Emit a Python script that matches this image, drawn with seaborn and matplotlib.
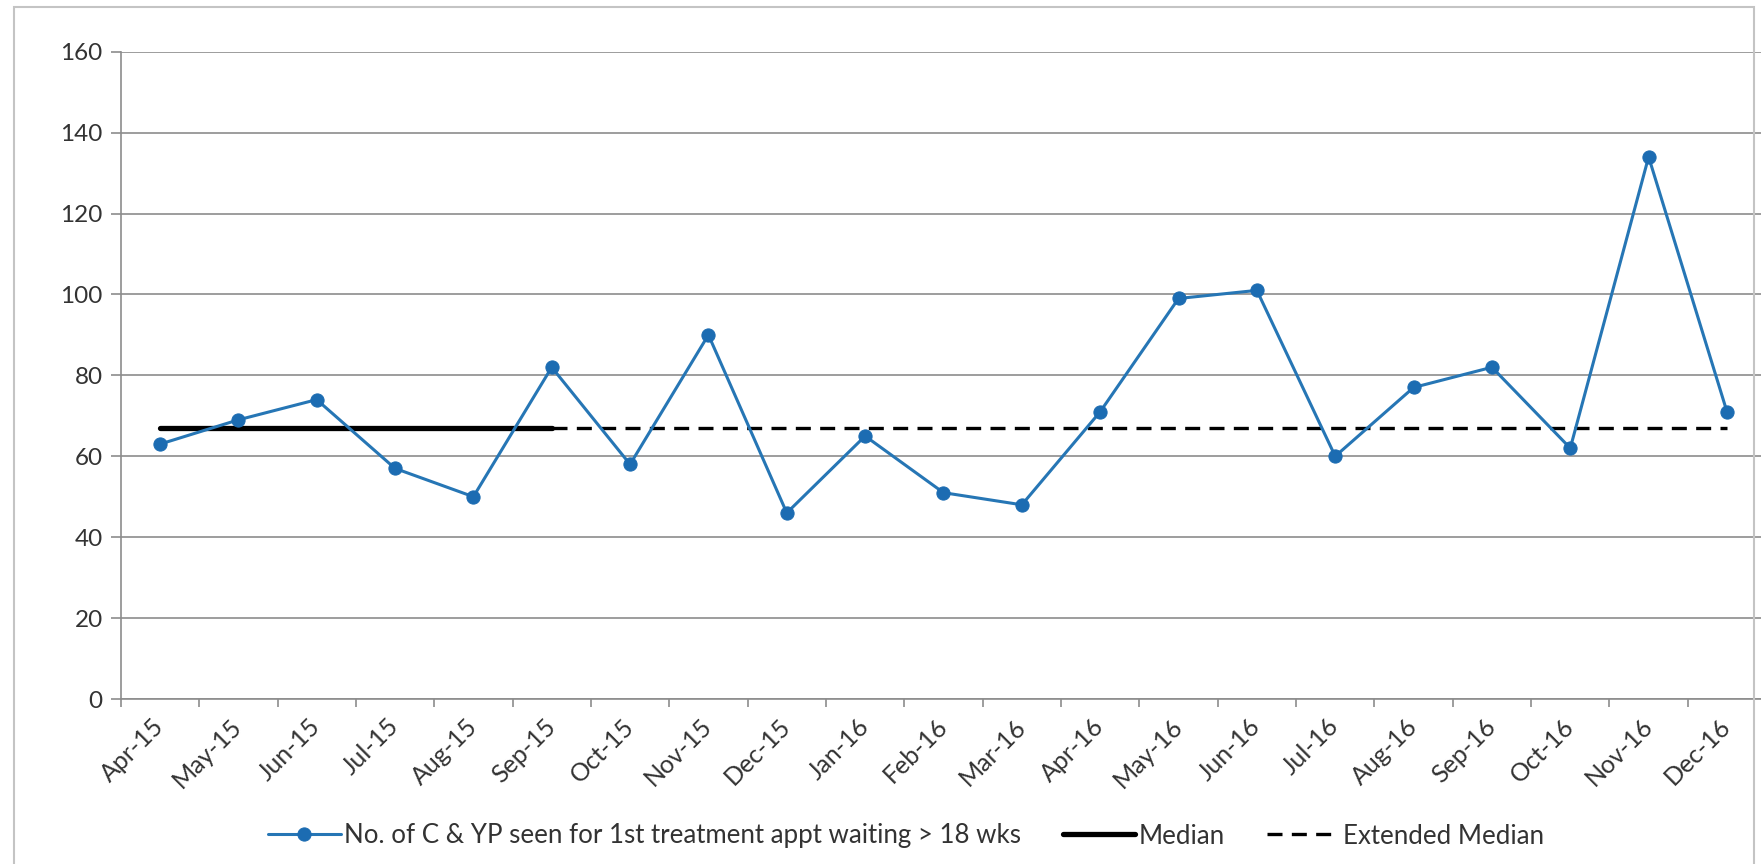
import matplotlib
matplotlib.use("Agg")
import matplotlib.pyplot as plt
from matplotlib.patches import Rectangle
import seaborn as sns
import pandas as pd

# Monthly counts of children & young people seen for 1st treatment appointment after waiting > 18 weeks
months = ["Apr-15", "May-15", "Jun-15", "Jul-15", "Aug-15", "Sep-15", "Oct-15",
          "Nov-15", "Dec-15", "Jan-16", "Feb-16", "Mar-16", "Apr-16", "May-16",
          "Jun-16", "Jul-16", "Aug-16", "Sep-16", "Oct-16", "Nov-16", "Dec-16"]
seen = [63, 69, 74, 57, 50, 82, 58, 90, 46, 65, 51, 48, 71, 99, 101, 60, 77, 82, 62, 134, 71]

# Median of the baseline period and its extension across the remaining months
median_value = 67
median_months = months[:6]
extended_months = months[5:]

y_ticks = [0, 20, 40, 60, 80, 100, 120, 140, 160]

series_label = "No. of C & YP seen for 1st treatment appt waiting > 18 wks"

sns.set_theme(style="white")
plt.rcParams["font.family"] = ["Lato", "DejaVu Sans"]

W, H = 1761, 864
fig = plt.figure(figsize=(W / 100, H / 100), dpi=100)
fig.patch.set_facecolor("white")

left_px, right_px, top_px, bottom_px = 120.8, 1761, 51.7, 699
ax = fig.add_axes([left_px / W, 1 - bottom_px / H,
                   (right_px - left_px) / W, (bottom_px - top_px) / H])

idx = {m: i for i, m in enumerate(months)}
df = pd.DataFrame({"x": [idx[m] for m in months], "y": seen})
med = pd.DataFrame({"x": [idx[m] for m in median_months], "y": [median_value] * len(median_months)})
ext = pd.DataFrame({"x": [idx[m] for m in extended_months], "y": [median_value] * len(extended_months)})

line_blue = "#2676B5"
sns.lineplot(data=df, x="x", y="y", ax=ax, color=line_blue, linewidth=2.2,
             marker="o", markersize=9.5, markerfacecolor="#1C6CB2",
             markeredgecolor="#1C6CB2", label=series_label, zorder=4)
sns.lineplot(data=med, x="x", y="y", ax=ax, color="black", linewidth=3.8,
             label="Median", zorder=3)
sns.lineplot(data=ext, x="x", y="y", ax=ax, color="black", linewidth=2.4,
             linestyle=(0, (4.5, 2.8)), label="Extended Median", zorder=3)

ax.set_xlim(-0.5, -0.5 + (right_px - left_px) / 78.35)
ax.set_ylim(0, 160)
ax.set_yticks(y_ticks)
ax.set_yticklabels([str(v) for v in y_ticks])
ax.set_xticks(range(len(months)))
ax.set_xticklabels(months, rotation=45, ha="right", va="center", rotation_mode="anchor")
ax.set_xticks([i - 0.5 for i in range(len(months))], minor=True)
ax.set_xlabel("")
ax.set_ylabel("")

ax.grid(axis="y", color="#8c8c8c", linewidth=1.2)
ax.grid(axis="x", visible=False)
ax.set_axisbelow(True)
for s in ["top", "right"]:
    ax.spines[s].set_visible(False)
ax.spines["left"].set_color("#8c8c8c")
ax.spines["left"].set_linewidth(1.2)
ax.spines["bottom"].set_color("#8c8c8c")
ax.spines["bottom"].set_linewidth(1.2)

txt_color = "#333333"
ax.tick_params(axis="y", which="major", left=True, length=7, width=1.2, color="#8c8c8c",
               labelsize=17.5, labelcolor=txt_color, pad=6)
ax.tick_params(axis="x", which="major", bottom=False, length=0, labelsize=18,
               labelcolor=txt_color, pad=17)
ax.tick_params(axis="x", which="minor", bottom=True, length=6, width=1.2, color="#8c8c8c")

ax.get_legend().remove()
handles, labels = ax.get_legend_handles_labels()
leg = fig.legend(handles, labels, loc="center", bbox_to_anchor=(906 / W, 1 - 836 / H),
                 ncol=3, frameon=False, fontsize=18.6, handlelength=2.8,
                 handletextpad=0.15, columnspacing=1.6, labelcolor=txt_color)

# outer chart border
fig.patches.append(Rectangle((14 / W, -0.05), (1754 - 14) / W, 1.05 - 7 / H,
                             transform=fig.transFigure, fill=False,
                             edgecolor="#c4c4c4", linewidth=1.5))

fig.savefig("out.png", dpi=100)
